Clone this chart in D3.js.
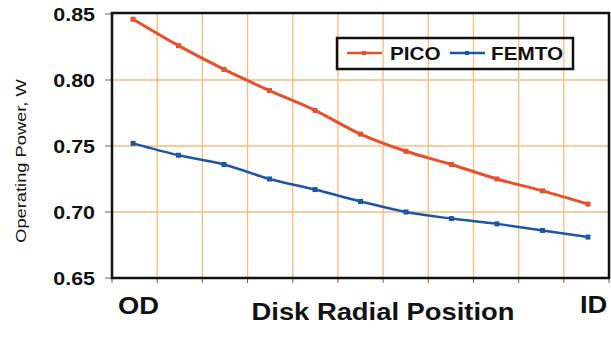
<!DOCTYPE html>
<html>
<head>
<meta charset="utf-8">
<script src="https://cdn.jsdelivr.net/npm/d3@7"></script>
<style>
  body { margin: 0; background: #fff; }
  text { font-family: "Liberation Sans", Arial, sans-serif; fill: #111; }
</style>
</head>
<body>
<svg id="chart" width="611" height="339"></svg>
<script>
// Data
const positions = d3.range(11);                     // measurement points OD -> ID
const pico  = [0.846, 0.826, 0.808, 0.792, 0.777, 0.759, 0.746, 0.736, 0.725, 0.716, 0.706];
const femto = [0.752, 0.743, 0.736, 0.725, 0.717, 0.708, 0.700, 0.695, 0.691, 0.686, 0.681];
const yTicks = [0.65, 0.70, 0.75, 0.80, 0.85];
const gridCols = d3.range(12);                      // vertical grid / tick slots
const series = [
  { name: "PICO",  values: pico,  color: "#e8502c" },
  { name: "FEMTO", values: femto, color: "#1d55a6" }
];

const svg = d3.select("#chart");
const STRETCH = 1.19;   // the source image is stretched horizontally

const L = 112, R = 609, T = 14, B = 278;

const xGrid = d3.scaleLinear().domain([0, 11]).range([L, R]);
const x = d3.scaleLinear().domain([0, 10]).range([133, 588]);
const y = d3.scaleLinear().domain([0.65, 0.85]).range([B, T]);

// gridlines
svg.append("g").selectAll("line.v")
  .data(gridCols.slice(1, -1))
  .join("line")
  .attr("x1", d => xGrid(d)).attr("x2", d => xGrid(d))
  .attr("y1", T).attr("y2", B)
  .attr("stroke", "#f5bd7c").attr("stroke-width", 1.3);

svg.append("g").selectAll("line.h")
  .data(yTicks.slice(1, -1))
  .join("line")
  .attr("x1", L).attr("x2", R)
  .attr("y1", d => y(d)).attr("y2", d => y(d))
  .attr("stroke", "#f5bd7c").attr("stroke-width", 1.3);

// ticks
svg.append("g").selectAll("line")
  .data(yTicks)
  .join("line")
  .attr("x1", L - 7).attr("x2", L)
  .attr("y1", d => y(d)).attr("y2", d => y(d))
  .attr("stroke", "#666").attr("stroke-width", 1);

svg.append("g").selectAll("line")
  .data(gridCols)
  .join("line")
  .attr("x1", d => xGrid(d)).attr("x2", d => xGrid(d))
  .attr("y1", B).attr("y2", B + 5)
  .attr("stroke", "#666").attr("stroke-width", 1);

// frame
svg.append("rect")
  .attr("x", L).attr("y", T - 1)
  .attr("width", R - L).attr("height", B - T + 1)
  .attr("fill", "none").attr("stroke", "#111").attr("stroke-width", 2.5);

// y tick labels
svg.append("g").selectAll("text")
  .data(yTicks)
  .join("text")
  .attr("transform", d => `translate(95,${y(d) + 6.5}) scale(${STRETCH},1)`)
  .attr("text-anchor", "end")
  .style("font-size", "18px").style("font-weight", "bold")
  .text(d => d.toFixed(2));

// lines
const line = d3.line()
  .x((d, i) => x(positions[i]))
  .y(d => y(d))
  .curve(d3.curveMonotoneX);

series.forEach(s => {
  svg.append("path")
    .datum(s.values)
    .attr("d", line)
    .attr("fill", "none")
    .attr("stroke", s.color)
    .attr("stroke-width", s.name === "PICO" ? 3 : 2.5);

  svg.append("g").selectAll("rect")
    .data(s.values)
    .join("rect")
    .attr("x", (d, i) => x(positions[i]) - 2.5)
    .attr("y", d => y(d) - 2.5)
    .attr("width", 5).attr("height", 5)
    .attr("fill", s.color);
});

// legend
const lg = svg.append("g");
lg.append("rect")
  .attr("x", 337).attr("y", 38).attr("width", 236).attr("height", 31)
  .attr("fill", "none").attr("stroke", "#111").attr("stroke-width", 2.5);

const legendItems = [
  { s: series[0], x0: 347, tx: 390 },
  { s: series[1], x0: 450, tx: 491 }
];
legendItems.forEach(it => {
  lg.append("line")
    .attr("x1", it.x0).attr("x2", it.x0 + 35)
    .attr("y1", 53).attr("y2", 53)
    .attr("stroke", it.s.color).attr("stroke-width", 2.5);
  lg.append("rect")
    .attr("x", it.x0 + 15).attr("y", 51).attr("width", 4).attr("height", 4)
    .attr("fill", it.s.color);
  lg.append("text")
    .attr("transform", `translate(${it.tx},60) scale(1.15,1)`)
    .style("font-size", "18px").style("font-weight", "bold")
    .text(it.s.name);
});

// axis titles
svg.append("text")
  .attr("transform", `translate(26,161) rotate(-90) scale(1.18,1)`)
  .attr("text-anchor", "middle")
  .style("font-size", "15.5px")
  .text("Operating Power, W");

svg.append("text")
  .attr("transform", `translate(118,314) scale(${STRETCH},1)`)
  .style("font-size", "23px").style("font-weight", "bold")
  .text("OD");

svg.append("text")
  .attr("transform", `translate(580,313) scale(${STRETCH},1)`)
  .style("font-size", "23px").style("font-weight", "bold")
  .text("ID");

svg.append("text")
  .attr("transform", `translate(383,320) scale(${STRETCH},1)`)
  .attr("text-anchor", "middle")
  .style("font-size", "23px").style("font-weight", "bold")
  .text("Disk Radial Position");
</script>
</body>
</html>
